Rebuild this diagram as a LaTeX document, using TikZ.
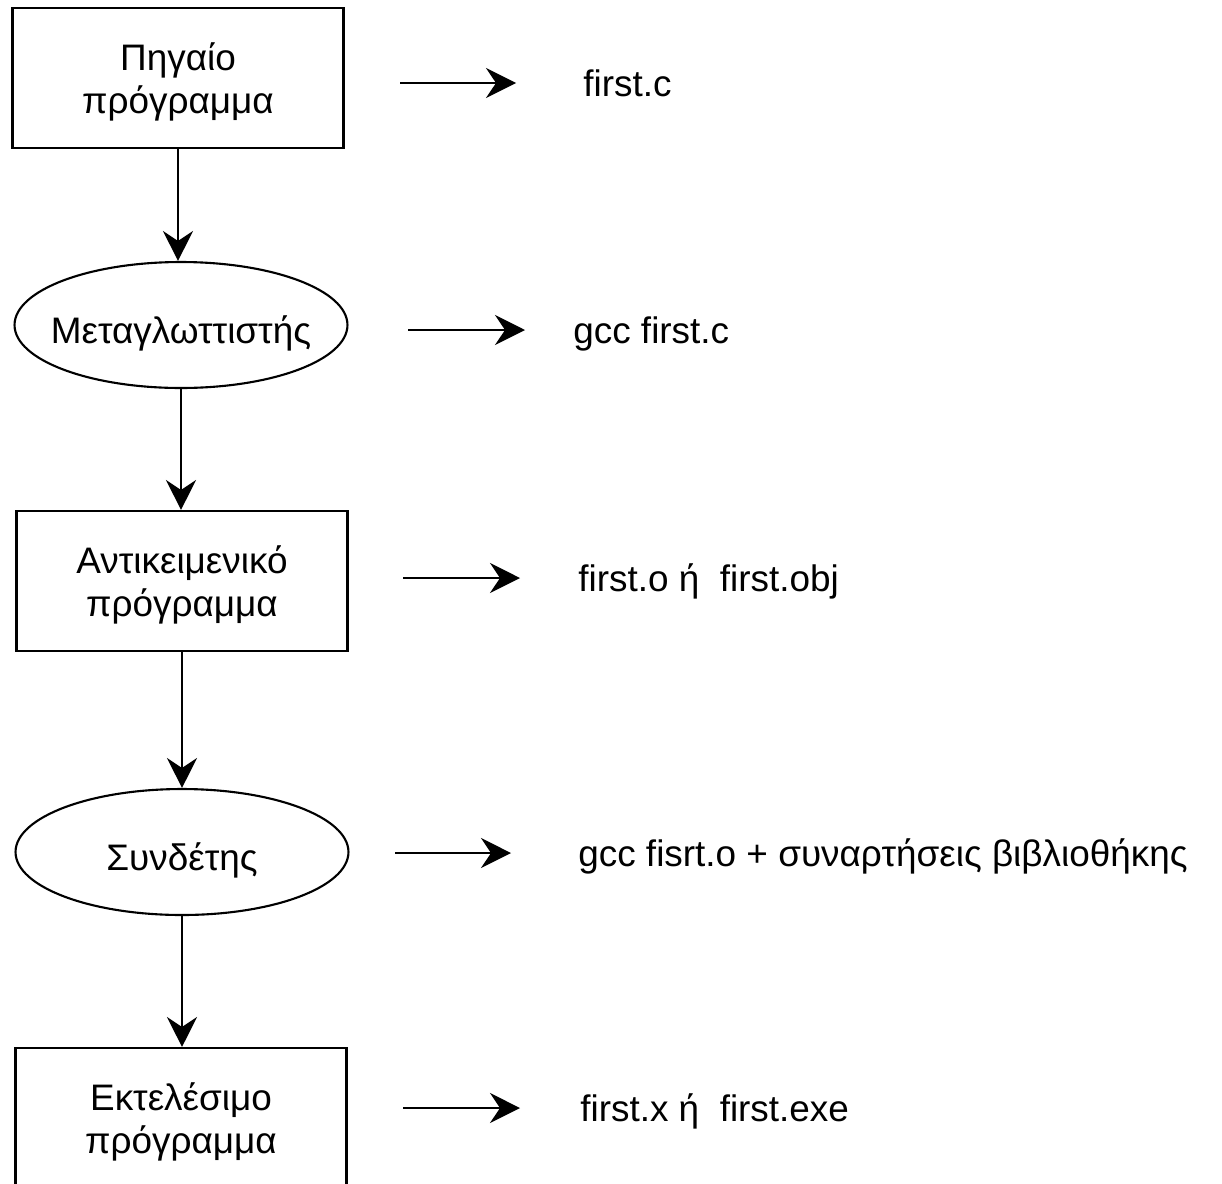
\documentclass[tikz,border=0pt]{standalone}
\usepackage{fontspec}
\setmainfont{Liberation Sans}
\usetikzlibrary{shapes.geometric,arrows.meta}

\tikzset{
	stage/.style={draw, line width=1.2pt, minimum width=6.62cm, minimum height=2.8cm, align=center, text depth=0pt, font=\fontsize{21}{24.5}\selectfont},
	tool/.style={ellipse, draw, line width=1.2pt, minimum width=6.66cm, minimum height=2.52cm, inner xsep=-0.5cm, inner ysep=0pt, text height=0.72cm, text depth=0pt, font=\fontsize{21}{24}\selectfont},
	flow/.style={-{Stealth[length=0.6cm,width=0.6cm,inset=0.2cm]}, line width=1.1pt},
	cmd/.style={anchor=base west, inner sep=0pt, font=\fontsize{21}{24}\selectfont}
}

\begin{document}
\begin{tikzpicture}[x=0.02cm, y=-0.02cm]

	% page frame, the last box runs off the bottom edge
	\useasboundingbox (0,0) rectangle (1222,1183);

	% the chain of stages, down the left side
	\node[stage] (src)  at (178,78)    {Πηγαίο\\πρόγραμμα};
	\node[tool]  (comp) at (181,325)   {Μεταγλωττιστής};
	\node[stage] (obj)  at (182,581)   {Αντικειμενικό\\πρόγραμμα};
	\node[tool]  (link) at (182,852)   {Συνδέτης};
	\node[stage] (exe)  at (181,1118)  {Εκτελέσιμο\\πρόγραμμα};

	\draw[flow] (src.south) -- (src.south |- comp.north);
	\draw[flow] (comp.south) -- (comp.south |- obj.north);
	\draw[flow] (obj.south) -- (obj.south |- link.north);
	\draw[flow] (link.south) -- (link.south |- exe.north);

	% files and commands on the right
	\node[cmd] (fsrc)  at (583,96)   {first.c};
	\node[cmd] (fcomp) at (573,343)  {gcc first.c};
	\node[cmd] (fobj)  at (578,591)  {first.o ή\ \ first.obj};
	\node[cmd] (flink) at (578,866)  {gcc fisrt.o + συναρτήσεις βιβλιοθήκης};
	\node[cmd] (fexe)  at (580,1121) {first.x ή\ \ first.exe};

	\coordinate (a1) at (400,83);   \coordinate (b1) at (516,83);
	\coordinate (a2) at (408,330);  \coordinate (b2) at (525,330);
	\coordinate (a3) at (403,578);  \coordinate (b3) at (520,578);
	\coordinate (a4) at (395,853);  \coordinate (b4) at (511,853);
	\coordinate (a5) at (403,1108); \coordinate (b5) at (520,1108);

	\foreach \i in {1,...,5} { \draw[flow] (a\i) -- (b\i); }

\end{tikzpicture}
\end{document}
